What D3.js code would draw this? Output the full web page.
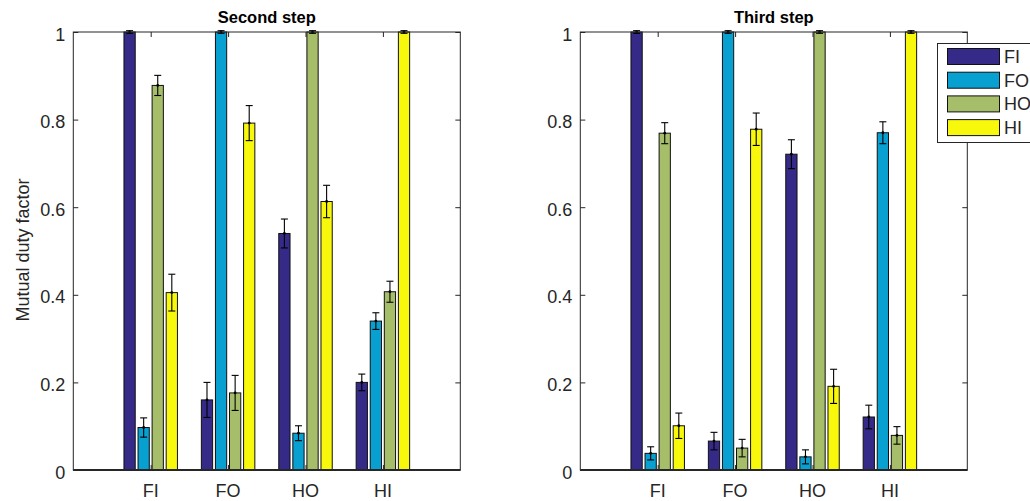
<!DOCTYPE html>
<html>
<head>
<meta charset="utf-8">
<script src="https://cdn.jsdelivr.net/npm/d3@7"></script>
<style>
  html, body { margin: 0; padding: 0; background: #fff; }
  svg { display: block; font-family: "Liberation Sans", Arial, Helvetica, sans-serif; }
</style>
</head>
<body>
<svg id="chart" width="1030" height="501"></svg>
<script>
// ---------- data ----------
const categories = ["FI", "FO", "HO", "HI"];
const seriesNames = ["FI", "FO", "HO", "HI"];
const seriesColors = ["#352a87", "#07a0d0", "#a6be6a", "#f8f80c"];
const yTicks = [0, 0.2, 0.4, 0.6, 0.8, 1];
const yTickLabels = ["0", "0.2", "0.4", "0.6", "0.8", "1"];

// Second step: mean per series across categories
const secondFI = [1.000, 0.160, 0.540, 0.200];
const secondFO = [0.097, 1.000, 0.084, 0.340];
const secondHO = [0.878, 0.176, 1.000, 0.407];
const secondHI = [0.405, 0.792, 0.613, 1.000];
// Second step: error half-widths
const secondFIerr = [0.003, 0.040, 0.033, 0.019];
const secondFOerr = [0.022, 0.003, 0.017, 0.019];
const secondHOerr = [0.023, 0.040, 0.003, 0.024];
const secondHIerr = [0.042, 0.040, 0.037, 0.003];

// Third step
const thirdFI = [1.000, 0.066, 0.721, 0.121];
const thirdFO = [0.038, 1.000, 0.030, 0.770];
const thirdHO = [0.769, 0.050, 1.000, 0.079];
const thirdHI = [0.101, 0.778, 0.191, 1.000];
const thirdFIerr = [0.003, 0.020, 0.033, 0.027];
const thirdFOerr = [0.015, 0.003, 0.016, 0.025];
const thirdHOerr = [0.024, 0.020, 0.003, 0.020];
const thirdHIerr = [0.029, 0.037, 0.039, 0.003];

const panels = [
  { title: "Second step", left: 73.3, ylabel: "Mutual duty factor",
    values: [secondFI, secondFO, secondHO, secondHI],
    errors: [secondFIerr, secondFOerr, secondHOerr, secondHIerr] },
  { title: "Third step", left: 580.3, ylabel: null,
    values: [thirdFI, thirdFO, thirdHO, thirdHI],
    errors: [thirdFIerr, thirdFOerr, thirdHOerr, thirdHIerr] }
];

// ---------- layout ----------
const svg = d3.select("#chart");
svg.append("rect").attr("width", 1030).attr("height", 501).attr("fill", "#fff");

const axW = 387, yTop = 32, yBottom = 470;
const axisColor = "#262626";
const fs = 18;
const nSeries = seriesNames.length;
const groupWidth = Math.min(0.8, nSeries / (nSeries + 1.5));
const step = groupWidth / nSeries;
const barW = step * 0.8;

panels.forEach(p => {
  const x = d3.scaleLinear().domain([0, categories.length + 1]).range([p.left, p.left + axW]);
  const y = d3.scaleLinear().domain([0, 1]).range([yBottom, yTop]);
  const g = svg.append("g");

  // bars
  p.values.forEach((vals, si) => {
    const off = (si - (nSeries - 1) / 2) * step;
    const sg = g.append("g");
    sg.selectAll("rect").data(vals).join("rect")
      .attr("x", (d, ci) => x(ci + 1 + off - barW / 2))
      .attr("width", x(barW) - x(0))
      .attr("y", d => y(d))
      .attr("height", d => y(0) - y(d))
      .attr("fill", seriesColors[si])
      .attr("stroke", "#111")
      .attr("stroke-width", 1);
  });

  // error bars
  p.values.forEach((vals, si) => {
    const off = (si - (nSeries - 1) / 2) * step;
    const errs = p.errors[si];
    const eg = g.append("g").attr("stroke", "#000").attr("stroke-width", 1.1);
    vals.forEach((v, ci) => {
      const cx = x(ci + 1 + off);
      const e = errs[ci];
      eg.append("line").attr("x1", cx).attr("x2", cx).attr("y1", y(v - e)).attr("y2", y(v + e));
      eg.append("line").attr("x1", cx - 3.5).attr("x2", cx + 3.5).attr("y1", y(v + e)).attr("y2", y(v + e));
      eg.append("line").attr("x1", cx - 3.5).attr("x2", cx + 3.5).attr("y1", y(v - e)).attr("y2", y(v - e));
      g.append("circle").attr("cx", cx).attr("cy", y(v)).attr("r", 1.4).attr("fill", "#000");
    });
  });

  // axes box
  const x0 = p.left, x1 = p.left + axW;
  g.append("rect").attr("x", x0).attr("y", yTop).attr("width", axW).attr("height", yBottom - yTop)
    .attr("fill", "none").attr("stroke", axisColor).attr("stroke-width", 1);
  g.append("line").attr("x1", x0).attr("x2", x1).attr("y1", yBottom).attr("y2", yBottom)
    .attr("stroke", axisColor).attr("stroke-width", 2);

  // y ticks (inward, both sides) via axis generators
  const yAxisL = d3.axisLeft(y).tickValues(yTicks).tickSizeInner(-5).tickSizeOuter(0).tickFormat("");
  const yAxisR = d3.axisRight(y).tickValues(yTicks).tickSizeInner(-5).tickSizeOuter(0).tickFormat("");
  const gl = g.append("g").attr("transform", `translate(${x0},0)`).call(yAxisL);
  const gr = g.append("g").attr("transform", `translate(${x1},0)`).call(yAxisR);
  [gl, gr].forEach(a => { a.select(".domain").remove(); a.selectAll("line").attr("stroke", axisColor); });

  // y tick labels
  g.append("g").selectAll("text").data(yTicks).join("text")
    .attr("x", x0 - 8).attr("y", d => y(d) + 8.5)
    .attr("text-anchor", "end").attr("font-size", fs).attr("fill", axisColor)
    .text((d, i) => yTickLabels[i]);

  // x ticks inward top & bottom
  const catPos = categories.map((c, i) => i + 1);
  const xAxisB = d3.axisBottom(x).tickValues(catPos).tickSizeInner(-5).tickSizeOuter(0).tickFormat("");
  const xAxisT = d3.axisTop(x).tickValues(catPos).tickSizeInner(-5).tickSizeOuter(0).tickFormat("");
  const gb = g.append("g").attr("transform", `translate(0,${yBottom})`).call(xAxisB);
  const gt = g.append("g").attr("transform", `translate(0,${yTop})`).call(xAxisT);
  [gb, gt].forEach(a => { a.select(".domain").remove(); a.selectAll("line").attr("stroke", axisColor); });

  // x labels
  g.append("g").selectAll("text").data(categories).join("text")
    .attr("x", (d, i) => x(i + 1)).attr("y", 497)
    .attr("text-anchor", "middle").attr("font-size", fs).attr("fill", axisColor)
    .text(d => d);

  // title
  g.append("text").attr("x", (x0 + x1) / 2).attr("y", 23)
    .attr("text-anchor", "middle").attr("font-size", 16.5).attr("font-weight", "bold")
    .attr("fill", "#000").text(p.title);

  if (p.ylabel) {
    g.append("text")
      .attr("transform", `translate(29,${(yTop + yBottom) / 2 - 1}) rotate(-90)`)
      .attr("text-anchor", "middle").attr("font-size", 18).attr("fill", axisColor)
      .text(p.ylabel);
  }
});

// ---------- legend ----------
const lg = svg.append("g");
lg.append("rect").attr("x", 937.5).attr("y", 43.5).attr("width", 120).attr("height", 99)
  .attr("fill", "#fff").attr("stroke", axisColor).attr("stroke-width", 1);
seriesNames.forEach((s, i) => {
  const yy = 48.5 + i * 23.7;
  lg.append("rect").attr("x", 947.5).attr("y", yy).attr("width", 52).attr("height", 16)
    .attr("fill", seriesColors[i]).attr("stroke", "#111").attr("stroke-width", 1);
  lg.append("text").attr("x", 1004).attr("y", yy + 14.5).attr("font-size", fs)
    .attr("fill", axisColor).text(s);
});
</script>
</body>
</html>
